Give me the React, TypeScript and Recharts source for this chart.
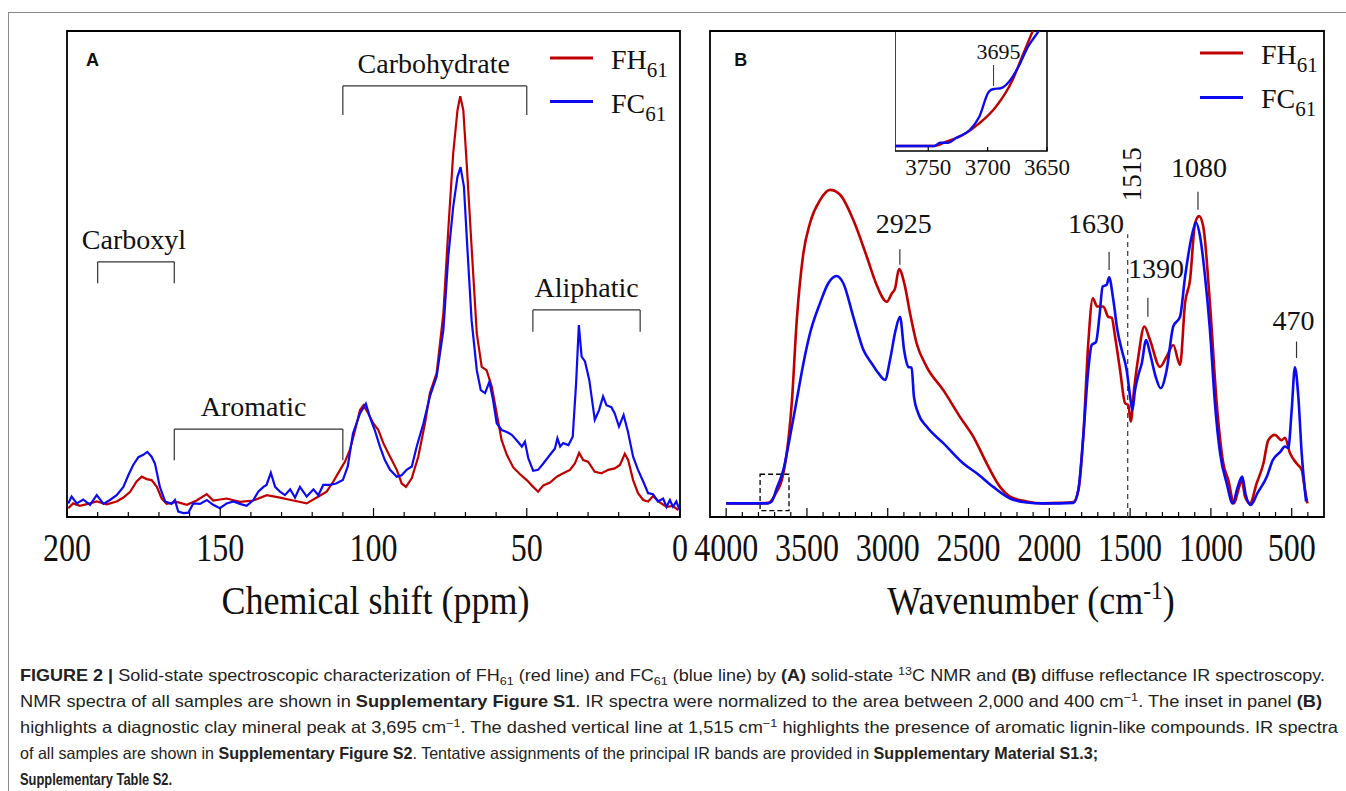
import React from "react"
import { LineChart, Line, XAxis, YAxis, ReferenceArea, ReferenceLine, ReferenceDot, Legend } from "recharts"

const SERIF = "'Liberation Serif', 'Times New Roman', serif"
const SANS = "'Liberation Sans', Arial, Helvetica, sans-serif"
const RED = "#c00000"
const BLUE = "#0b0bf2"
const INK = "#111"

// legend names, the "61" goes in as a subscript
const seriesNames = ["FH", "FC"]
const seriesSub = "61"

// (A) solid-state 13C NMR, [ppm, intensity]
const nmrFH = [
  [199.6, 1.8], [198, 2.8], [195.8, 2.3], [192.5, 2.8], [190.3, 3.2], [187, 2.6], [183.8, 3.2], [181.6, 4.0],
  [179.4, 5.2], [177.3, 7.3], [175.6, 8.3], [174, 7.8], [172.4, 7.6], [170.7, 6.2], [169.1, 3.8], [167.5, 2.7],
  [164.2, 3.1], [160.9, 2.5], [157.7, 3.4], [154.4, 4.7], [152.3, 3.4], [147.9, 3.8], [143.6, 3.1], [139.2, 3.4],
  [134.8, 4.5], [130.5, 4.0], [126.2, 3.4], [121.8, 2.8], [118.5, 4.0], [115.3, 5.2], [113.1, 7.3], [110.9, 9.7],
  [109.3, 11.4], [107.7, 13.8], [106, 17.9], [104.4, 22], [103.3, 23], [101.7, 21.3], [100.1, 19.3], [98.4, 17.9],
  [96.8, 15.2], [94.6, 12.4], [92.4, 9.7], [90.8, 6.9], [89.4, 6.2], [87.5, 8], [85.4, 12.4], [83.2, 19.3],
  [81.6, 25.5], [79.4, 29.6], [77.2, 41.9], [75.6, 59.1], [74, 74.8], [72.6, 83.7], [71.7, 86.6], [70.7, 83.7],
  [69.6, 72.8], [68, 55.6], [66.3, 37.8], [64.7, 30.9], [63.1, 30.2], [61.4, 26.8], [59.8, 21.3], [58.2, 15.8],
  [56.5, 12.8], [54.4, 10.2], [52.2, 8.8], [50, 7.6], [47.9, 6.2], [46.3, 5.2], [44.6, 6.5], [42.4, 7.1],
  [40.2, 8.3], [38.1, 9], [35.9, 9.7], [34.3, 11], [32.9, 13.2], [31.6, 11.7], [30, 11.4], [27.8, 9.3],
  [25.6, 9.0], [23.4, 9.7], [21.3, 10], [19.6, 10.7], [18, 13], [16.9, 11.7], [15.3, 7.6], [13.7, 4.9],
  [12, 3.5], [10.4, 3.2], [8.8, 4.3], [6.6, 3], [4.4, 2.1], [2.3, 2.3], [0.6, 1.4],
]
const nmrFC = [
  [199.6, 2.8], [198.5, 4.2], [196.8, 2.8], [194.7, 3.6], [192.5, 2.5], [190.3, 4.5], [188.1, 2.7], [186, 3.5],
  [183.8, 4.5], [181.6, 6.2], [180, 8.6], [178.4, 10.7], [176.7, 12.3], [175.1, 12.8], [173.8, 13.4], [172.4, 12.4],
  [171.3, 11], [169.7, 6.2], [168, 3.2], [165.9, 2.7], [164.8, 3.5], [163.7, 1.1], [162, 0.8], [160.4, 0.9],
  [158.8, 2.8], [156.6, 2.7], [154.4, 3.5], [152.3, 2.5], [150.1, 1.8], [147.9, 2.8], [145.7, 3.2], [143.6, 2.7],
  [141.4, 2.3], [139.2, 3.5], [137.6, 5.2], [135.9, 6.2], [134.9, 6.6], [133.5, 9.1], [132.1, 6.2], [130.5, 5.2],
  [128.9, 4.5], [127.2, 5.7], [125.6, 4.0], [124, 6.2], [121.8, 4.2], [119.6, 5.7], [118, 4.5], [116.4, 6.6],
  [114.2, 6.6], [112.2, 6.9], [110, 7.6], [108.4, 10.4], [106.7, 17.2], [104.4, 21.3], [102.5, 23.3], [101.2, 20.6],
  [99.6, 17.9], [97.9, 14.5], [96.3, 11.7], [94.6, 9.7], [92.4, 8.3], [90.8, 8.6], [89.2, 9.7], [87.5, 10.4],
  [85.9, 14.5], [83.7, 19.3], [81.6, 24.8], [79.4, 28.9], [77.2, 38.5], [75.6, 53.6], [74, 63.8], [72.6, 70],
  [71.6, 72], [70.5, 68], [69.4, 55.6], [68, 40.5], [66.3, 30.2], [65, 26.1], [63.6, 25.5], [62.2, 27.8],
  [61, 24.1], [59.8, 19.3], [58.2, 17.9], [56.5, 17.5], [54.9, 16.9], [53.3, 15.8], [51.6, 14.5], [50.6, 15.5],
  [49.5, 12.1], [47.9, 9.5], [46.3, 9.7], [44.6, 11], [42.4, 12.8], [40.8, 14.1], [40, 16.2], [39.1, 14.5],
  [38.1, 15.2], [36.4, 14.8], [35, 16.5], [33.9, 27.5], [33, 39.5], [32.1, 33], [31, 32], [29.6, 28.2],
  [27.8, 20], [26.4, 22], [25.1, 24.8], [24, 23], [22.4, 22.6], [21.3, 21.3], [19.9, 18.6], [18.4, 21],
  [17, 17.6], [15.3, 12.4], [13.7, 9.7], [12, 7.3], [10.4, 4.9], [8.8, 4.7], [7.2, 3.2], [5.5, 3.8],
  [4.4, 2.1], [3.3, 3.5], [2.3, 2.1], [1.2, 3.2], [0.1, 1.4],
]
const nmrLabels = [200, 150, 100, 50, 0]
const regionNames = ["Carboxyl", "Aromatic", "Carbohydrate", "Aliphatic"]
const regionFrom = [190, 165, 110, 48]
const regionTo = [165, 110, 50, 13]

// (B) diffuse reflectance IR, [wavenumber, intensity]
const irFH = [
  [4000, 2.8], [3850, 2.8], [3741, 2.9], [3687, 5.2], [3656, 7.6], [3625, 13.2], [3594, 23.4], [3563, 40.5],
  [3522, 54.3], [3481, 60.5], [3419, 65.2], [3357, 67.3], [3295, 66.3], [3213, 61.1], [3130, 53.6], [3068, 47.7],
  [3006, 44.3], [2975, 46], [2955, 47], [2930, 51], [2893, 47.4], [2862, 41.9], [2821, 35.7], [2759, 30.9],
  [2656, 26.1], [2553, 20.6], [2470, 16.5], [2387, 11], [2305, 6.2], [2243, 4.2], [2140, 3.2], [2039, 2.8],
  [1934, 2.9], [1851, 3.1], [1820, 5.6], [1790, 16.5], [1759, 35.7], [1731, 45], [1703, 43.3], [1666, 43.3],
  [1635, 41.2], [1614, 41], [1593, 37.1], [1562, 30.2], [1531, 23.4], [1511, 23], [1496, 19.6], [1476, 26.1],
  [1449, 33], [1412, 39.2], [1377, 36.4], [1315, 30.9], [1274, 33], [1233, 35.4], [1191, 31.3], [1160, 44],
  [1129, 48.8], [1098, 60.4], [1073, 61.9], [1047, 59.7], [1006, 44], [964, 23.4], [923, 11], [892, 7.6],
  [857, 2.8], [830, 5.6], [809, 7.6], [789, 4.2], [758, 2.8], [717, 6.9], [675, 11], [645, 15.8],
  [604, 16.9], [562, 15.8], [542, 16.3], [510, 13.1], [469, 11], [438, 9.7], [418, 5.6], [403, 2.8],
]
const irFC = [
  [4000, 2.8], [3850, 2.8], [3741, 2.8], [3718, 3.2], [3687, 5.9], [3646, 9.7], [3605, 16.5], [3563, 24.1],
  [3522, 31.6], [3481, 37.8], [3419, 44], [3368, 48.1], [3316, 49.6], [3275, 48.1], [3213, 41.2], [3151, 34.4],
  [3099, 31.6], [3058, 29.6], [3017, 28.2], [2986, 32.3], [2951, 38.5], [2924, 41.2], [2899, 34.4], [2873, 30.9],
  [2852, 30.7], [2838, 24.8], [2811, 21.3], [2759, 18.6], [2656, 15.2], [2532, 11], [2449, 9], [2347, 6.2],
  [2243, 3.8], [2140, 3], [2039, 2.8], [1934, 2.8], [1851, 2.9], [1820, 5.6], [1790, 16.5], [1759, 30.2],
  [1738, 35.4], [1711, 36], [1690, 41.2], [1670, 47.4], [1645, 47.8], [1630, 49.3], [1604, 44.7], [1579, 38.5],
  [1552, 34.4], [1521, 30.2], [1500, 24.8], [1486, 22], [1470, 26], [1449, 29.2], [1428, 31.6], [1401, 36.4],
  [1377, 33.7], [1342, 28.9], [1311, 26.5], [1274, 30.2], [1233, 39.2], [1191, 41.2], [1160, 49.4], [1119, 57.7],
  [1092, 60.6], [1067, 57.7], [1036, 49.4], [1006, 38.5], [975, 23.4], [943, 13.1], [902, 6.9], [865, 2.8],
  [834, 6.2], [806, 8.3], [784, 4.5], [753, 2.5], [712, 4.9], [654, 8.3], [617, 11.7], [571, 13.4],
  [542, 14.5], [521, 14.2], [500, 22], [480, 30.8], [459, 24.8], [438, 13.1], [411, 3.2],
]
const irLabels = [4000, 3500, 3000, 2500, 2000, 1500, 1000, 500]
const irPeaks = [2925, 1630, 1390, 1080, 470]
const ligninBand = 1515

// inset of (B), 3780-3650 cm-1
const insetFH = [
  [3778, 5], [3745, 5], [3735, 9.3], [3721, 16], [3707, 27.7], [3693, 44.3], [3679, 71], [3671, 94.3],
  [3662, 120], [3655, 140],
]
const insetFC = [
  [3778, 5], [3745, 5], [3740, 8.3], [3733, 8.3], [3727, 12.7], [3715, 21], [3707, 34.3], [3699, 59.3],
  [3695, 62], [3689, 62.7], [3682, 69.3], [3674, 84.3], [3666, 104.3], [3657, 120], [3650, 135],
]
const insetLabels = [3750, 3700, 3650]
const clayPeak = 3695

const nmrTicks = Array.from({ length: 21 }, (_, i) => i * 10)
const irTicks = Array.from({ length: 37 }, (_, i) => 400 + i * 100)

const toRows = (pts: number[][]) => pts.map(([x, y]) => ({ x, y }))

type TextOpts = { size?: number; sx?: number; anchor?: "start" | "middle" | "end"; rotate?: number; weight?: string; family?: string }

function txt(x: number, y: number, body: React.ReactNode, o: TextOpts = {}) {
  return (
    <text
      transform={`translate(${x},${y}) rotate(${o.rotate ?? 0}) scale(${o.sx ?? 1},1)`}
      textAnchor={o.anchor ?? "middle"}
      fontFamily={o.family ?? SERIF}
      fontSize={o.size ?? 28}
      fontWeight={o.weight ?? "normal"}
      fill={INK}
    >
      {body}
    </text>
  )
}

function axisTicks(labels: number[], size: number, sx: number, drop: number, minor: number, major: number) {
  return (p: any) => {
    const { x, y, payload } = p
    const isMajor = labels.includes(payload.value)
    return (
      <g>
        <line x1={x} x2={x} y1={y} y2={y - (isMajor ? major : minor)} stroke="#000" strokeWidth={1.2} />
        {isMajor && txt(x, y + drop, payload.value, { size, sx })}
      </g>
    )
  }
}

const axisTitle = (body: React.ReactNode, dx: number) => (p: any) => {
  const vb = p.viewBox
  return txt(vb.x + vb.width / 2 + dx, vb.y + 97, body, { size: 40, sx: 0.9 })
}

// text hung on a reference dot / segment
const note = (body: React.ReactNode, dx: number, dy: number, o: TextOpts = {}) => (p: any) =>
  txt(p.viewBox.x + (p.viewBox.width || 0) / 2 + dx, p.viewBox.y + dy, body, o)

function SeriesKey({ gap }: { gap: number }) {
  return (
    <svg width={140} height={110} style={{ overflow: "visible" }}>
      {seriesNames.map((n, i) => (
        <g key={n}>
          <line x1={2} x2={45} y1={18 + i * gap} y2={18 + i * gap} stroke={[RED, BLUE][i]} strokeWidth={3} />
          <text x={63} y={29 + i * gap} fontFamily={SERIF} fontSize={28} fill={INK}>
            {n}
            <tspan fontSize={21} dy={8}>{seriesSub}</tspan>
          </text>
        </g>
      ))}
    </svg>
  )
}

const frame = { fill: "none", stroke: "#000", strokeWidth: 1.8 }
const thin = { stroke: "#333", strokeWidth: 1.2 }

function NmrPanel() {
  // bracket heights / label nudges (layout only)
  const top = [52.5, 18.1, 88.7, 42.6]
  const leg = [48.1, 11.7, 82.7, 38.1]
  const nudge = [-2, -5, -1, 0]
  return (
    <LineChart width={700} height={640} margin={{ top: 31, right: 20, bottom: 0, left: 67 }}>
      <XAxis
        type="number" dataKey="x" domain={[0, 200]} reversed allowDataOverflow
        ticks={nmrTicks} interval={0} tickSize={0} tickMargin={0} tickLine={false} axisLine={false}
        tick={axisTicks(nmrLabels, 40, 0.8, 44, 5, 9)} height={123}
        label={{ content: axisTitle("Chemical shift (ppm)", 2) }}
      />
      <YAxis hide type="number" domain={[0, 100]} allowDataOverflow />
      <ReferenceArea x1={0} x2={200} y1={0} y2={100} ifOverflow="visible" {...frame} />
      {regionNames.map((name, i) => {
        const a = regionFrom[i]
        const b = regionTo[i]
        return [
          <ReferenceLine key={name + "h"} segment={[{ x: a, y: top[i] }, { x: b, y: top[i] }]} {...thin} />,
          <ReferenceLine key={name + "l"} segment={[{ x: a, y: top[i] }, { x: a, y: leg[i] }]} {...thin} />,
          <ReferenceLine key={name + "r"} segment={[{ x: b, y: top[i] }, { x: b, y: leg[i] }]} {...thin} />,
          <ReferenceDot key={name + "t"} x={(a + b) / 2} y={top[i]} r={0} fill="none" stroke="none"
            label={note(name, nudge[i], -13, { size: 28 })} />,
        ]
      })}
      <Line data={toRows(nmrFH)} dataKey="y" name="FH" type="linear" stroke={RED} strokeWidth={2.2} dot={false} activeDot={false} isAnimationActive={false} />
      <Line data={toRows(nmrFC)} dataKey="y" name="FC" type="linear" stroke={BLUE} strokeWidth={2.2} dot={false} activeDot={false} isAnimationActive={false} />
      <ReferenceDot x={193.8} y={92.8} r={0} fill="none" stroke="none"
        label={note("A", 0, 0, { size: 18, anchor: "start", family: SANS, weight: "bold" })} />
      <Legend layout="horizontal" verticalAlign="middle" align="center"
        content={() => <SeriesKey gap={43.5} />}
        wrapperStyle={{ left: 548, top: 40, width: 140, height: 110 }} />
    </LineChart>
  )
}

function IrPanel() {
  // peak marker spans and text nudges (layout only)
  const spans = [[51.9, 55.1], [50.8, 54.6], [41.2, 45.1], [63.2, 66.9], [32.7, 36.1]]
  const nudge = [[4, -16], [-13, -19], [8, -20], [1, -15], [-3, -12]]
  return (
    <LineChart width={656} height={640} margin={{ top: 31, right: 22, bottom: 0, left: 20 }}>
      <XAxis
        type="number" dataKey="x" domain={[300, 4100]} reversed allowDataOverflow
        ticks={irTicks} interval={0} tickSize={0} tickMargin={0} tickLine={false} axisLine={false}
        tick={axisTicks(irLabels, 40, 0.8, 44, 5, 9)} height={123}
        label={{
          content: axisTitle(
            <>
              <tspan>Wavenumber (cm</tspan>
              <tspan fontSize={26} dy={-15}>-1</tspan>
              <tspan dy={15}>)</tspan>
            </>,
            14,
          ),
        }}
      />
      <YAxis hide type="number" domain={[0, 100]} allowDataOverflow />
      <ReferenceArea x1={300} x2={4100} y1={0} y2={100} ifOverflow="visible" {...frame} />
      <ReferenceArea x1={3611} x2={3790} y1={1.3} y2={8.8} fill="none" stroke="#000" strokeWidth={1.3} strokeDasharray="5 3" />
      <ReferenceLine segment={[{ x: ligninBand, y: 0 }, { x: ligninBand, y: 58.2 }]} stroke="#444" strokeWidth={1.3} strokeDasharray="5 4"
        label={note(String(ligninBand), 13, -60, { size: 27, rotate: -90 })} />
      <Line data={toRows(irFH)} dataKey="y" name="FH" type="monotone" stroke={RED} strokeWidth={2.6} dot={false} activeDot={false} isAnimationActive={false} />
      <Line data={toRows(irFC)} dataKey="y" name="FC" type="monotone" stroke={BLUE} strokeWidth={2.6} dot={false} activeDot={false} isAnimationActive={false} />
      {irPeaks.map((pk, i) => (
        <ReferenceLine key={pk} segment={[{ x: pk, y: spans[i][0] }, { x: pk, y: spans[i][1] }]} {...thin}
          label={note(String(pk), nudge[i][0], nudge[i][1], { size: 28 })} />
      ))}
      <ReferenceDot x={3950} y={92.8} r={0} fill="none" stroke="none"
        label={note("B", 0, 0, { size: 18, anchor: "start", family: SANS, weight: "bold" })} />
      <Legend layout="horizontal" verticalAlign="middle" align="center"
        content={() => <SeriesKey gap={44.4} />}
        wrapperStyle={{ left: 508, top: 35, width: 140, height: 110 }} />
    </LineChart>
  )
}

function Inset() {
  return (
    <LineChart width={190} height={160} margin={{ top: 0, right: 38, bottom: 0, left: 0 }}>
      <XAxis
        type="number" dataKey="x" domain={[3650, 3778]} reversed allowDataOverflow
        ticks={insetLabels} interval={0} tickSize={0} tickMargin={0} tickLine={false} axisLine={false}
        tick={axisTicks(insetLabels, 23, 1, 24, 4, 4)} height={40}
      />
      <YAxis hide type="number" domain={[0, 120]} allowDataOverflow />
      <ReferenceArea x1={3650} x2={3778} y1={0} y2={120} ifOverflow="visible" fill="none" stroke="#000" strokeWidth={1.5} />
      <Line data={toRows(insetFH)} dataKey="y" type="monotone" stroke={RED} strokeWidth={2.4} dot={false} activeDot={false} isAnimationActive={false} />
      <Line data={toRows(insetFC)} dataKey="y" type="monotone" stroke={BLUE} strokeWidth={2.4} dot={false} activeDot={false} isAnimationActive={false} />
      <ReferenceLine segment={[{ x: clayPeak, y: 65 }, { x: clayPeak, y: 86 }]} stroke="#333" strokeWidth={1}
        label={note(String(clayPeak), 5, -6, { size: 22 })} />
    </LineChart>
  )
}

function Caption() {
  const line = { fontFamily: SANS, fontSize: 16.5, fill: "#222", lengthAdjust: "spacingAndGlyphs" as const }
  return (
    <svg width={1346} height={151}>
      <text x={20} y={41} textLength={1305} {...line}>
        <tspan fontWeight="bold">FIGURE 2 |</tspan> Solid-state spectroscopic characterization of FH<tspan dy={4} fontSize={11.5}>61</tspan><tspan dy={-4}> (red line) and FC</tspan><tspan dy={4} fontSize={11.5}>61</tspan><tspan dy={-4}> (blue line) by </tspan><tspan fontWeight="bold">(A)</tspan> solid-state <tspan dy={-6} fontSize={11.5}>13</tspan><tspan dy={6}>C NMR and </tspan><tspan fontWeight="bold">(B)</tspan> diffuse reflectance IR spectroscopy.
      </text>
      <text x={20} y={67} textLength={1302} {...line}>
        NMR spectra of all samples are shown in <tspan fontWeight="bold">Supplementary Figure S1</tspan>. IR spectra were normalized to the area between 2,000 and 400 cm<tspan dy={-6} fontSize={11.5}>−1</tspan><tspan dy={6}>. The inset in panel </tspan><tspan fontWeight="bold">(B)</tspan>
      </text>
      <text x={20} y={93} textLength={1318} {...line}>
        highlights a diagnostic clay mineral peak at 3,695 cm<tspan dy={-6} fontSize={11.5}>−1</tspan><tspan dy={6}>. The dashed vertical line at 1,515 cm</tspan><tspan dy={-6} fontSize={11.5}>−1</tspan><tspan dy={6}> highlights the presence of aromatic lignin-like compounds. IR spectra</tspan>
      </text>
      <text x={20} y={119} textLength={1078} {...line}>
        of all samples are shown in <tspan fontWeight="bold">Supplementary Figure S2</tspan>. Tentative assignments of the principal IR bands are provided in <tspan fontWeight="bold">Supplementary Material S1.3;</tspan>
      </text>
      <text x={20} y={145} textLength={152} {...line} fontWeight="bold">
        Supplementary Table S2.
      </text>
    </svg>
  )
}

export default function App() {
  return (
    <div style={{ position: "absolute", left: 0, top: 0, width: 1346, height: 791, background: "#fff", overflow: "hidden" }}>
      <div style={{ position: "absolute", left: 8, top: 12, width: 1346, height: 800, borderTop: "1px solid #8a8a8a", borderLeft: "1px solid #8a8a8a" }} />
      <div style={{ position: "absolute", left: 0, top: 0 }}>
        <NmrPanel />
      </div>
      <div style={{ position: "absolute", left: 690, top: 0 }}>
        <IrPanel />
      </div>
      <div style={{ position: "absolute", left: 895, top: 31 }}>
        <Inset />
      </div>
      <div style={{ position: "absolute", left: 0, top: 640 }}>
        <Caption />
      </div>
    </div>
  )
}
